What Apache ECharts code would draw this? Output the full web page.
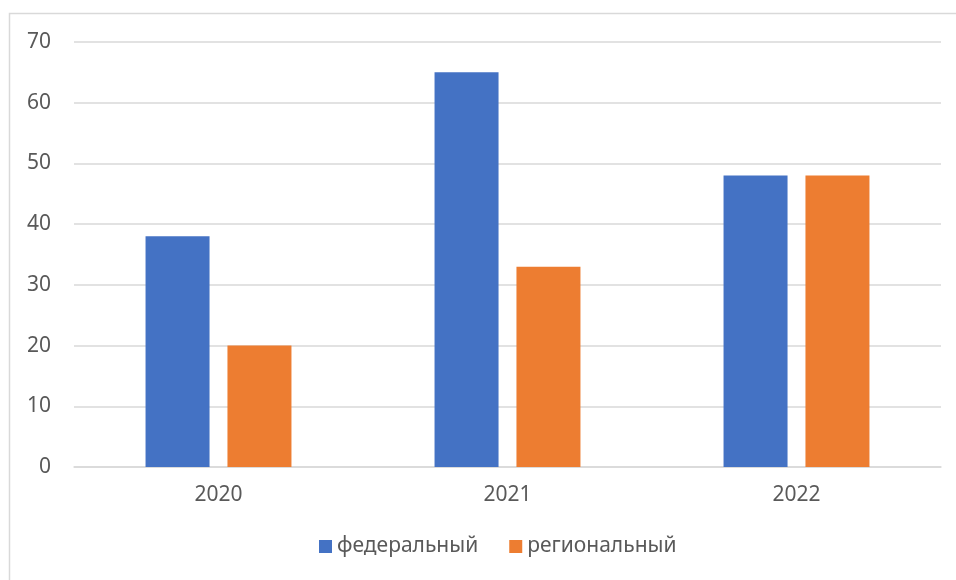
<!DOCTYPE html>
<html>
<head>
<meta charset="utf-8">
<script src="https://cdn.jsdelivr.net/npm/echarts@6/dist/echarts.min.js"></script>
<style>
    html, body { margin: 0; padding: 0; background: #fff; }
    #chart { width: 956px; height: 580px; }
</style>
</head>
<body>
<div id="chart"></div>
<script>
// данные
const years = ['2020', '2021', '2022']
const federal = [38, 65, 48]
const regional = [20, 33, 48]
const seriesNames = ['федеральный', 'региональный']

const labelColor = '#595959'
const lineColor = '#d9d9d9'
const font = '"Noto Sans", "Open Sans", sans-serif'

const myChart = echarts.init(document.getElementById('chart'))
const option = {
    animation: false,
    textStyle: { fontFamily: font },
    graphic: [{
        type: 'rect',
        shape: { x: 9.5, y: 13.5, width: 980, height: 620 },
        style: { fill: 'none', stroke: lineColor, lineWidth: 1.5 },
        silent: true
    }],
    grid: {
        left: 74,
        right: 15,
        top: 42,
        bottom: 113
    },
    legend: {
        bottom: 18,
        left: 314,
        itemWidth: 13,
        itemHeight: 13,
        itemGap: 31,
        icon: 'rect',
        textStyle: { color: labelColor, fontSize: 21, fontFamily: font },
        data: seriesNames
    },
    xAxis: {
        type: 'category',
        data: years,
        axisTick: { show: false },
        axisLine: { lineStyle: { color: lineColor, width: 1.5 } },
        axisLabel: { color: labelColor, fontSize: 21, margin: 18 }
    },
    yAxis: {
        type: 'value',
        min: 0,
        max: 70,
        interval: 10,
        axisLine: { show: false },
        axisTick: { show: false },
        splitLine: { lineStyle: { color: lineColor, width: 1.5 } },
        axisLabel: { color: labelColor, fontSize: 21, margin: 23 }
    },
    series: [{
        name: seriesNames[0],
        type: 'bar',
        data: federal,
        barWidth: 64,
        barGap: '28%',
        itemStyle: { color: '#4472c4' }
    }, {
        name: seriesNames[1],
        type: 'bar',
        data: regional,
        barWidth: 64,
        itemStyle: { color: '#ed7d31' }
    }]
}
myChart.setOption(option)
</script>
</body>
</html>
